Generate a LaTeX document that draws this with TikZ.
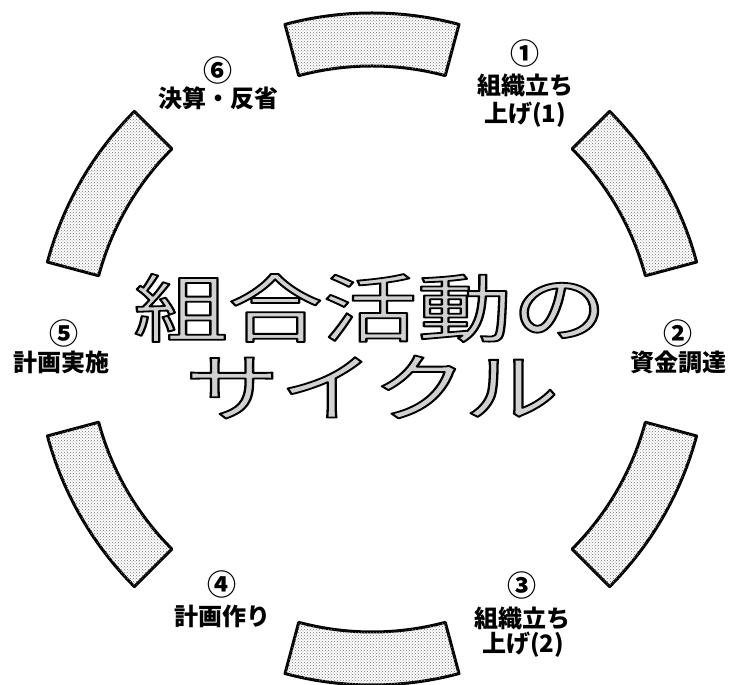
\documentclass[tikz,border=0pt]{standalone}
\usepackage{fontspec}
\newfontfamily\jp{Noto Sans CJK JP}
\usetikzlibrary{patterns,calc}
\newcommand{\outlinetext}[1]{\special{pdf:literal direct 2 Tr 1.8 w 0 G 1 j}#1\special{pdf:literal direct 0 Tr}}
\tikzset{
  seg/.style={draw=black, line width=3pt, line join=round, fill=white,
    postaction={pattern=crosshatch dots, pattern color=black!55}},
  lab/.style={inner sep=0pt, font=\jp\bfseries\fontsize{24}{26}\selectfont},
  num/.style={inner sep=0pt, font=\jp\bfseries\fontsize{29}{30}\selectfont},
  bigtxt/.style={inner sep=0pt, xscale=1.28, text=black!18, font=\jp\fontsize{74}{80}\selectfont}
}
\newcommand{\segment}[1]{%
  \path[seg] ($(372,336)+(#1-15:336pt)$) arc[start angle=#1-15, end angle=#1+15, radius=336pt]
    -- ($(372,336)+(#1+15:283pt)$) arc[start angle=#1+15, end angle=#1-15, radius=283pt] -- cycle;}
\begin{document}
\begin{tikzpicture}[x=1pt,y=1pt]
\useasboundingbox[fill=white] (0,0) rectangle (734,685);
\begin{scope}
\clip (0,0) rectangle (734,685);
\segment{90}
\segment{30}
\segment{-30}
\segment{-90}
\segment{-150}
\segment{150}
\end{scope}
% big centre text
\node[bigtxt] (t1) at (370,377) {\outlinetext{組合活動の}};
\node[bigtxt] (t2) at (372,298) {\outlinetext{サイクル}};
% labels
\node[num] (n1) at (525,632) {①};
\node[lab] (a1) at (525,600) {組織立ち};
\node[lab] (b1) at (525,570) {上げ(1)};
\node[num] (n2) at (678,352) {②};
\node[lab] (a2) at (678,323) {資金調達};
\node[num] (n3) at (522,100) {③};
\node[lab] (a3) at (522,67) {組織立ち};
\node[lab] (b3) at (523,40) {上げ(2)};
\node[num] (n4) at (222,101) {④};
\node[lab] (a4) at (222,69) {計画作り};
\node[num] (n5) at (64,352) {⑤};
\node[lab] (a5) at (61,323) {計画実施};
\node[num] (n6) at (218,615) {⑥};
\node[lab] (a6) at (218,587) {決算・反省};
\end{tikzpicture}
\end{document}
